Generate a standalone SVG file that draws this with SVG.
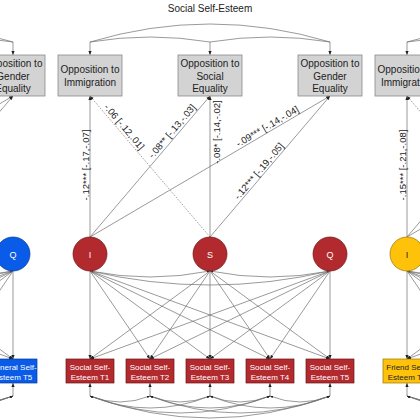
<svg xmlns="http://www.w3.org/2000/svg" width="420" height="420" viewBox="0 0 420 420">
<style>
.ln{stroke:#6e6e6e;stroke-width:0.7;fill:none}
.dot{stroke:#6e6e6e;stroke-width:0.7;fill:none;stroke-dasharray:1.5 1.5}
.cv{stroke:#6e6e6e;stroke-width:0.7;fill:none}
.box{fill:#d3d3d3;stroke:#8a8a8a;stroke-width:0.8}
.bt{font-family:"Liberation Sans",Arial,sans-serif;font-size:10px;fill:#222;text-anchor:middle}
.it{font-family:"Liberation Sans",Arial,sans-serif;font-size:8px;fill:#fff;text-anchor:middle}
.itd{font-family:"Liberation Sans",Arial,sans-serif;font-size:8px;fill:#222;text-anchor:middle}
.lt{font-family:"Liberation Sans",Arial,sans-serif;font-size:9px;fill:#fff;text-anchor:middle}
.ltd{font-family:"Liberation Sans",Arial,sans-serif;font-size:9px;fill:#222;text-anchor:middle}
.el{font-family:"Liberation Sans",Arial,sans-serif;font-size:9.5px;fill:#222;text-anchor:middle}
.red{fill:#b22a2e;stroke:#6b1515;stroke-width:0.7}
.blue{fill:#0a5ce8;stroke:#003a9a;stroke-width:0.7}
.yel{fill:#ffc20a;stroke:#9a7400;stroke-width:0.7}
</style>
<defs>
<marker id="ah" viewBox="0 0 10 10" refX="10" refY="5" markerWidth="4" markerHeight="4" orient="auto-start-reverse" markerUnits="userSpaceOnUse"><path d="M0,1 L10,5 L0,9 z" fill="#222"/></marker>
<marker id="sh" viewBox="0 0 10 10" refX="10" refY="5" markerWidth="3" markerHeight="3" orient="auto-start-reverse" markerUnits="userSpaceOnUse"><path d="M0,1 L10,5 L0,9 z" fill="#222"/></marker>
</defs>
<rect width="420" height="420" fill="#fff"/>
<text x="210" y="12" class="bt">Social Self-Esteem</text>

<g id="connectors">
<!-- top covariances among outcome boxes -->
<path class="cv" d="M90,42 Q150,32 210,42"/>
<path class="cv" d="M210,42 Q270,32 330,42"/>
<path class="cv" d="M90,42 Q210,6 330,42"/>
<path class="cv" d="M13,42 Q-47,32 -107,42"/>
<path class="cv" d="M13,42 Q-107,6 -227,42"/>
<path class="cv" d="M407,42 Q467,32 527,42"/>
<path class="cv" d="M407,42 Q527,6 647,42"/>
<line class="ln" x1="90" y1="42" x2="90" y2="55" marker-end="url(#ah)"/>
<line class="ln" x1="210" y1="42" x2="210" y2="55" marker-end="url(#ah)"/>
<line class="ln" x1="330" y1="42" x2="330" y2="55" marker-end="url(#ah)"/>
<line class="ln" x1="13" y1="42" x2="13" y2="55" marker-end="url(#ah)"/>
<line class="ln" x1="407" y1="42" x2="407" y2="55" marker-end="url(#ah)"/>

<!-- regressions -->
<line class="ln" x1="90" y1="237" x2="90" y2="96" marker-end="url(#ah)"/>
<line class="ln" x1="90" y1="237" x2="210" y2="96" marker-end="url(#ah)"/>
<line class="ln" x1="90" y1="237" x2="330" y2="96" marker-end="url(#ah)"/>
<line class="dot" x1="210" y1="237" x2="90" y2="96" marker-end="url(#ah)"/>
<line class="ln" x1="210" y1="237" x2="210" y2="96" marker-end="url(#ah)"/>
<line class="ln" x1="210" y1="237" x2="330" y2="96" marker-end="url(#ah)"/>
<line class="ln" x1="-227" y1="237" x2="13" y2="96" marker-end="url(#ah)"/>
<line class="ln" x1="-107" y1="237" x2="13" y2="96" marker-end="url(#ah)"/>
<line class="ln" x1="407" y1="237" x2="407" y2="96" marker-end="url(#ah)"/>
<line class="ln" x1="407" y1="237" x2="527" y2="96" marker-end="url(#ah)"/>
<line class="ln" x1="407" y1="237" x2="647" y2="96" marker-end="url(#ah)"/>
<line class="dot" x1="527" y1="237" x2="407" y2="96" marker-end="url(#ah)"/>

<!-- latent covariances -->
<path class="cv" d="M90,271 Q150,283 210,271" marker-start="url(#sh)" marker-end="url(#sh)"/>
<path class="cv" d="M210,271 Q270,283 330,271" marker-start="url(#sh)" marker-end="url(#sh)"/>
<path class="cv" d="M90,271 Q210,299 330,271" marker-start="url(#sh)" marker-end="url(#sh)"/>
<path class="cv" d="M13,271 Q-47,283 -107,271" marker-start="url(#sh)"/>
<path class="cv" d="M13,271 Q-107,299 -227,271" marker-start="url(#sh)"/>
<path class="cv" d="M407,271 Q467,283 527,271" marker-start="url(#sh)"/>
<path class="cv" d="M407,271 Q527,299 647,271" marker-start="url(#sh)"/>

<!-- loadings main panel -->
<line class="ln" x1="90" y1="271" x2="90" y2="359" marker-end="url(#ah)"/>
<line class="ln" x1="90" y1="271" x2="150" y2="359" marker-end="url(#ah)"/>
<line class="ln" x1="90" y1="271" x2="210" y2="359" marker-end="url(#ah)"/>
<line class="ln" x1="90" y1="271" x2="270" y2="359" marker-end="url(#ah)"/>
<line class="ln" x1="90" y1="271" x2="330" y2="359" marker-end="url(#ah)"/>
<line class="ln" x1="210" y1="271" x2="90" y2="359" marker-end="url(#ah)"/>
<line class="ln" x1="210" y1="271" x2="150" y2="359" marker-end="url(#ah)"/>
<line class="ln" x1="210" y1="271" x2="210" y2="359" marker-end="url(#ah)"/>
<line class="ln" x1="210" y1="271" x2="270" y2="359" marker-end="url(#ah)"/>
<line class="ln" x1="210" y1="271" x2="330" y2="359" marker-end="url(#ah)"/>
<line class="ln" x1="330" y1="271" x2="90" y2="359" marker-end="url(#ah)"/>
<line class="ln" x1="330" y1="271" x2="150" y2="359" marker-end="url(#ah)"/>
<line class="ln" x1="330" y1="271" x2="210" y2="359" marker-end="url(#ah)"/>
<line class="ln" x1="330" y1="271" x2="270" y2="359" marker-end="url(#ah)"/>
<line class="ln" x1="330" y1="271" x2="330" y2="359" marker-end="url(#ah)"/>
<!-- loadings left panel (partial) -->
<line class="ln" x1="13" y1="271" x2="13" y2="359" marker-end="url(#ah)"/>
<line class="ln" x1="13" y1="271" x2="-47" y2="359"/>
<line class="ln" x1="13" y1="271" x2="-107" y2="359"/>
<line class="ln" x1="13" y1="271" x2="-167" y2="359"/>
<line class="ln" x1="13" y1="271" x2="-227" y2="359"/>
<line class="ln" x1="-107" y1="271" x2="13" y2="359" marker-end="url(#ah)"/>
<line class="ln" x1="-227" y1="271" x2="13" y2="359" marker-end="url(#ah)"/>
<!-- loadings right panel (partial) -->
<line class="ln" x1="407" y1="271" x2="407" y2="359" marker-end="url(#ah)"/>
<line class="ln" x1="407" y1="271" x2="467" y2="359"/>
<line class="ln" x1="407" y1="271" x2="527" y2="359"/>
<line class="ln" x1="407" y1="271" x2="587" y2="359"/>
<line class="ln" x1="407" y1="271" x2="647" y2="359"/>
<line class="ln" x1="527" y1="271" x2="407" y2="359" marker-end="url(#ah)"/>
<line class="ln" x1="647" y1="271" x2="407" y2="359" marker-end="url(#ah)"/>

<!-- residual arrows and covariances -->
<line class="ln" x1="90" y1="396" x2="90" y2="383" marker-end="url(#ah)"/>
<line class="ln" x1="150" y1="396" x2="150" y2="383" marker-end="url(#ah)"/>
<line class="ln" x1="210" y1="396" x2="210" y2="383" marker-end="url(#ah)"/>
<line class="ln" x1="270" y1="396" x2="270" y2="383" marker-end="url(#ah)"/>
<line class="ln" x1="330" y1="396" x2="330" y2="383" marker-end="url(#ah)"/>
<line class="ln" x1="13" y1="396" x2="13" y2="383" marker-end="url(#ah)"/>
<line class="ln" x1="407" y1="396" x2="407" y2="383" marker-end="url(#ah)"/>
<path class="cv" d="M90,396 Q120,408 150,396" marker-start="url(#sh)" marker-end="url(#sh)"/>
<path class="cv" d="M150,396 Q180,408 210,396" marker-start="url(#sh)" marker-end="url(#sh)"/>
<path class="cv" d="M210,396 Q240,408 270,396" marker-start="url(#sh)" marker-end="url(#sh)"/>
<path class="cv" d="M270,396 Q300,408 330,396" marker-start="url(#sh)" marker-end="url(#sh)"/>
<path class="cv" d="M90,396 Q150,420 210,396" marker-start="url(#sh)" marker-end="url(#sh)"/>
<path class="cv" d="M150,396 Q210,420 270,396" marker-start="url(#sh)" marker-end="url(#sh)"/>
<path class="cv" d="M210,396 Q270,420 330,396" marker-start="url(#sh)" marker-end="url(#sh)"/>
<path class="cv" d="M90,396 Q180,430 270,396" marker-start="url(#sh)" marker-end="url(#sh)"/>
<path class="cv" d="M150,396 Q240,430 330,396" marker-start="url(#sh)" marker-end="url(#sh)"/>
<path class="cv" d="M90,396 Q210,440 330,396" marker-start="url(#sh)" marker-end="url(#sh)"/>
<path class="cv" d="M13,396 Q-17,408 -47,396" marker-start="url(#sh)"/>
<path class="cv" d="M13,396 Q-47,420 -107,396" marker-start="url(#sh)"/>
<path class="cv" d="M13,396 Q-77,430 -167,396" marker-start="url(#sh)"/>
<path class="cv" d="M13,396 Q-107,440 -227,396" marker-start="url(#sh)"/>
<path class="cv" d="M407,396 Q437,408 467,396" marker-start="url(#sh)"/>
<path class="cv" d="M407,396 Q467,420 527,396" marker-start="url(#sh)"/>
<path class="cv" d="M407,396 Q497,430 587,396" marker-start="url(#sh)"/>
<path class="cv" d="M407,396 Q527,440 647,396" marker-start="url(#sh)"/>

<!-- edge labels -->
<text class="el" transform="translate(90,165) rotate(-90)" y="-1.5">-.12*** [-.17,-.07]</text>
<text class="el" transform="translate(210,132) rotate(-90)" y="9.5">-.08* [-.14,-.02]</text>
<text class="el" transform="translate(407,165) rotate(-90)" y="-1.5">-.15*** [-.21,-.08]</text>
<text class="el" transform="translate(119.4,130.8) rotate(49.8)" y="-3">-.06 [-.12,.01]</text>
<text class="el" transform="translate(176.8,135.2) rotate(-49.8)" y="-3">-.08** [-.13,-.03]</text>
<text class="el" transform="translate(270.3,131.3) rotate(-30.6)" y="-2.5">-.09*** [-.14,-.04]</text>
<text class="el" transform="translate(263.3,174.8) rotate(-49.8)" y="-2.5">-.12*** [-.19,-.05]</text>
</g>

<g id="opp-gender-left"><rect class="box" x="-19" y="55" width="64" height="41"/><text class="bt" x="13" y="67">Opposition to</text><text class="bt" x="13" y="79.5">Gender</text><text class="bt" x="13" y="92">Equality</text></g>
<g id="opp-immigration"><rect class="box" x="58" y="55" width="64" height="41"/><text class="bt" x="90" y="73">Opposition to</text><text class="bt" x="90" y="85.5">Immigration</text></g>
<g id="opp-social"><rect class="box" x="178" y="55" width="64" height="41"/><text class="bt" x="210" y="67">Opposition to</text><text class="bt" x="210" y="79.5">Social</text><text class="bt" x="210" y="92">Equality</text></g>
<g id="opp-gender"><rect class="box" x="298" y="55" width="64" height="41"/><text class="bt" x="330" y="67">Opposition to</text><text class="bt" x="330" y="79.5">Gender</text><text class="bt" x="330" y="92">Equality</text></g>
<g id="opp-immigration-right"><rect class="box" x="375" y="55" width="64" height="41"/><text class="bt" x="407" y="73">Opposition to</text><text class="bt" x="407" y="85.5">Immigration</text></g>

<g id="latent-q-general"><circle class="blue" cx="13" cy="254" r="17"/><text class="lt" x="13" y="257.5">Q</text></g>
<g id="latent-i"><circle class="red" cx="90" cy="254" r="17"/><text class="lt" x="90" y="257.5">I</text></g>
<g id="latent-s"><circle class="red" cx="210" cy="254" r="17"/><text class="lt" x="210" y="257.5">S</text></g>
<g id="latent-q"><circle class="red" cx="330" cy="254" r="17"/><text class="lt" x="330" y="257.5">Q</text></g>
<g id="latent-i-friend"><circle class="yel" cx="407" cy="254" r="17"/><text class="ltd" x="407" y="257.5">I</text></g>

<g id="gse-t5"><rect class="blue" x="-11" y="359" width="48" height="24"/><text class="it" x="13" y="369.5">General Self-</text><text class="it" x="13" y="379.5">Esteem T5</text></g>
<g id="sse-t1"><rect class="red" x="66" y="359" width="48" height="24"/><text class="it" x="90" y="369.5">Social Self-</text><text class="it" x="90" y="379.5">Esteem T1</text></g>
<g id="sse-t2"><rect class="red" x="126" y="359" width="48" height="24"/><text class="it" x="150" y="369.5">Social Self-</text><text class="it" x="150" y="379.5">Esteem T2</text></g>
<g id="sse-t3"><rect class="red" x="186" y="359" width="48" height="24"/><text class="it" x="210" y="369.5">Social Self-</text><text class="it" x="210" y="379.5">Esteem T3</text></g>
<g id="sse-t4"><rect class="red" x="246" y="359" width="48" height="24"/><text class="it" x="270" y="369.5">Social Self-</text><text class="it" x="270" y="379.5">Esteem T4</text></g>
<g id="sse-t5"><rect class="red" x="306" y="359" width="48" height="24"/><text class="it" x="330" y="369.5">Social Self-</text><text class="it" x="330" y="379.5">Esteem T5</text></g>
<g id="fse-t1"><rect class="yel" x="383" y="359" width="48" height="24"/><text class="itd" x="407" y="369.5">Friend Self-</text><text class="itd" x="407" y="379.5">Esteem T1</text></g>
</svg>
